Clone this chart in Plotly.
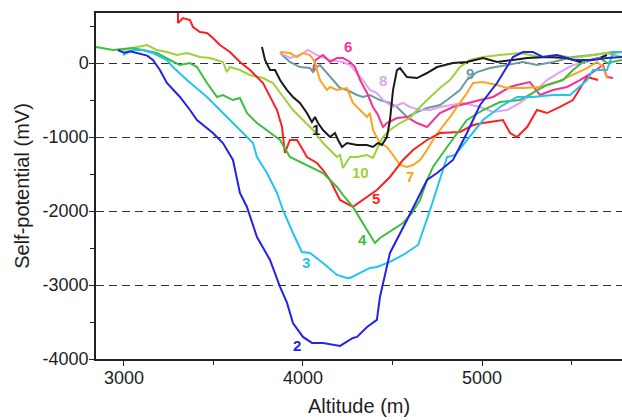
import plotly.graph_objects as go

# ---- data (altitude m, self-potential mV) ----
alt_1 = [3771,3788,3816,3844,3872,3911,3944,3983,4022,4050,4067,4084,4112,4151,4179,4196,4218,4246,4302,4358,4391,4419,4441,4469,4486,4503,4525,4542,4581,4637,4693,4749,4838,4916,5006,5084,5173,5252,5363,5475,5547,5659,5698]
sp_1 = [216,41,-95,-95,-230,-365,-459,-540,-676,-797,-730,-811,-905,-1000,-946,-1040,-1135,-1081,-1108,-1108,-1135,-1081,-1108,-1000,-770,-365,-95,-68,-189,-203,-135,-54,0,14,68,14,41,68,81,68,14,68,108]

alt_2 = [2966,3000,3034,3089,3130,3162,3201,3240,3313,3369,3408,3497,3553,3609,3648,3687,3743,3816,3872,3911,3944,4000,4050,4112,4207,4279,4302,4358,4413,4430,4486,4581,4637,4693,4749,4838,4916,4989,5084,5173,5229,5285,5341,5419,5508,5620,5698,5782]
sp_2 = [176,140,160,120,100,41,-95,-270,-459,-635,-770,-946,-1081,-1310,-1756,-1945,-2351,-2661,-3026,-3242,-3513,-3702,-3783,-3783,-3823,-3715,-3702,-3567,-3472,-3161,-2567,-2121,-1851,-1581,-1486,-1310,-946,-567,-270,81,149,149,81,108,41,41,68,81]

alt_3 = [2994,3050,3106,3162,3240,3274,3352,3464,3553,3631,3687,3721,3743,3799,3855,3888,3944,3994,4039,4112,4190,4246,4263,4319,4374,4413,4486,4559,4643,4710,4765,4805,4849,4916,5006,5101,5196,5285,5397,5492,5587,5620,5698,5732,5782]
sp_3 = [108,176,176,135,41,-54,-230,-459,-676,-865,-1000,-1081,-1270,-1486,-1756,-1986,-2297,-2554,-2567,-2702,-2864,-2904,-2904,-2837,-2769,-2756,-2688,-2594,-2459,-1986,-1581,-1270,-1243,-1040,-770,-594,-459,-459,-432,-432,-230,-95,-95,135,149]

alt_4 = [2844,2939,3050,3106,3184,3257,3313,3369,3408,3464,3520,3553,3609,3648,3687,3743,3816,3872,3927,4000,4112,4190,4223,4279,4330,4402,4430,4559,4609,4654,4693,4726,4805,4916,5006,5101,5212,5285,5363,5453,5508,5564,5659,5698,5782]
sp_4 = [216,176,203,176,135,41,-27,0,-54,-270,-459,-432,-500,-473,-676,-811,-946,-1040,-1270,-1351,-1486,-1675,-1783,-1945,-2148,-2432,-2364,-2162,-2027,-1851,-1581,-1405,-1135,-770,-635,-527,-500,-405,-297,-230,-95,14,68,0,41]

alt_5 = [3302,3302,3330,3369,3386,3425,3464,3497,3536,3592,3648,3704,3777,3816,3855,3883,3899,3927,3967,4000,4022,4078,4112,4151,4207,4279,4335,4413,4486,4559,4615,4693,4765,4877,4950,5006,5117,5157,5196,5252,5307,5363,5436,5508,5587,5648]
sp_5 = [690,540,608,581,486,419,405,338,243,149,14,-95,-270,-459,-635,-865,-1216,-1040,-1040,-1175,-1270,-1351,-1446,-1581,-1851,-1945,-1851,-1716,-1540,-1310,-1175,-1040,-946,-932,-838,-811,-770,-946,-1000,-865,-635,-676,-594,-500,-189,-230]

alt_6 = [4056,4070,4095,4112,4151,4190,4223,4263,4291,4319,4358,4391,4419,4447,4469,4525,4581,4637,4693,4765,4838,4916,4989,5062,5157,5196,5268,5324,5397,5475,5547,5620,5676,5698,5732]
sp_6 = [-95,40,81,108,14,68,68,14,-54,-230,-405,-594,-703,-865,-811,-743,-730,-811,-865,-676,-594,-540,-500,-459,-324,-297,-257,-432,-365,-324,-230,-122,-27,-189,-203]

alt_7 = [3872,3927,3967,4000,4039,4067,4078,4095,4134,4151,4190,4246,4279,4319,4358,4374,4391,4430,4469,4503,4542,4581,4615,4654,4693,4726,4765,4821,4877,4916,4950,5006,5084,5140,5229,5324,5419,5508,5587,5643,5676,5698]
sp_7 = [149,135,81,135,108,14,-95,-230,-365,-324,-365,-338,-540,-635,-730,-676,-905,-1081,-1135,-1243,-1378,-1405,-1378,-1310,-1175,-1040,-905,-730,-540,-405,-270,-257,-297,-338,-338,-324,-257,-162,-68,14,-54,-203]

alt_8 = [3872,3927,3983,4028,4078,4151,4223,4263,4302,4335,4374,4413,4447,4503,4559,4598,4654,4710,4765,4821,4894,4989,5062,5140,5212,5285,5363,5436,5508,5587,5643]
sp_8 = [135,68,108,176,108,41,14,-27,-135,-230,-365,-405,-500,-594,-540,-594,-635,-635,-594,-567,-540,-594,-662,-635,-540,-405,-230,-122,-27,14,68]

alt_9 = [3872,3927,3983,4039,4056,4078,4095,4134,4168,4207,4246,4302,4335,4374,4430,4486,4525,4581,4637,4693,4765,4805,4877,4916,4972,5045,5140,5229,5307,5397,5508,5620,5732,5782]
sp_9 = [135,14,-54,-68,-122,-54,-27,-135,-230,-338,-365,-432,-459,-432,-500,-540,-594,-730,-662,-608,-567,-500,-365,-230,-122,-68,-27,14,-27,14,81,108,149,149]

alt_10 = [2994,3089,3129,3184,3240,3296,3352,3425,3480,3553,3575,3592,3648,3704,3777,3832,3888,3944,4000,4056,4112,4168,4190,4207,4223,4263,4302,4358,4391,4419,4447,4486,4542,4598,4637,4693,4765,4821,4877,4933,5006,5101,5212,5324,5419,5508,5620,5698,5782]
sp_10 = [176,216,243,176,149,108,135,81,68,14,-122,-54,-95,-162,-203,-270,-459,-635,-770,-905,-1081,-1216,-1270,-1243,-1419,-1270,-1270,-1243,-1283,-1135,-1000,-905,-811,-743,-635,-500,-338,-230,-54,41,81,108,135,81,108,68,108,135,81]

profile_names = ["1","2","3","4","5","6","7","8","9","10"]
profile_colors = ["#1a1a1a","#2323e6","#22c4f2","#3cbf3c","#ff1f1f","#f5338f","#ffa21e","#dfa3f0","#6b9aa2","#9dd23c"]
label_alt = [4072,3967,4017,4330,4408,4251,4598,4447,4933,4319]
label_sp = [-905,-3823,-2702,-2391,-1837,230,-1527,-230,-135,-1473]

x_tick_vals = [3000,4000,5000]
x_tick_text = ["3000","4000","5000"]
y_tick_vals = [0,-1000,-2000,-3000,-4000]
y_tick_text = ["0","-1000","-2000","-3000","-4000"]

alts = [alt_1,alt_2,alt_3,alt_4,alt_5,alt_6,alt_7,alt_8,alt_9,alt_10]
sps = [sp_1,sp_2,sp_3,sp_4,sp_5,sp_6,sp_7,sp_8,sp_9,sp_10]

fig = go.Figure()
order = [8,7,5,6,9,0,4,3,2,1]
for i in order:
    fig.add_trace(go.Scatter(x=alts[i], y=sps[i], mode="lines", name=profile_names[i],
                             line=dict(color=profile_colors[i], width=2), showlegend=False))

for i in range(10):
    fig.add_annotation(x=label_alt[i], y=label_sp[i], text="<b>%s</b>" % profile_names[i],
                       showarrow=False, font=dict(size=15, color=profile_colors[i],
                                                  family="Liberation Sans, Arial, sans-serif"))

axis_font = dict(family="Liberation Sans, Arial, sans-serif", size=18, color="#1e1e1e")
fig.update_layout(
    width=622, height=420,
    margin=dict(l=96, r=0, t=13, b=61),
    plot_bgcolor="white", paper_bgcolor="white",
    font=axis_font,
    xaxis=dict(range=[2844, 5782], tickvals=x_tick_vals, ticktext=x_tick_text, ticks="outside", ticklen=5,
               tickwidth=1.2, tickcolor="#222", showline=True, linecolor="#222", linewidth=1.5,
               mirror=True, showgrid=False, zeroline=False, automargin=False, ticklabelstandoff=-3,
               minor=dict(dtick=500, tick0=0, ticks="outside", ticklen=4, tickcolor="#222", showgrid=False),
               title=dict(text="Altitude (m)", font=dict(size=20), standoff=12),
               tickfont=dict(size=18)),
    yaxis=dict(range=[-4000, 676], tickvals=y_tick_vals, ticktext=y_tick_text, ticks="outside", ticklen=5,
               tickwidth=1.2, tickcolor="#222", showline=True, linecolor="#222", linewidth=1.5,
               showgrid=True, gridcolor="#333", gridwidth=1.3, griddash="8px,5px", zeroline=False,
               automargin=False, ticklabelstandoff=-3,
               minor=dict(dtick=500, tick0=0, ticks="outside", ticklen=4, tickcolor="#222", showgrid=False),
               title=dict(text="Self-potential (mV)", font=dict(size=20), standoff=8),
               tickfont=dict(size=18)),
)

fig.write_html("out.html", config={"displayModeBar": False},
               post_script="document.body.style.margin='0';document.body.style.overflow='hidden';")
